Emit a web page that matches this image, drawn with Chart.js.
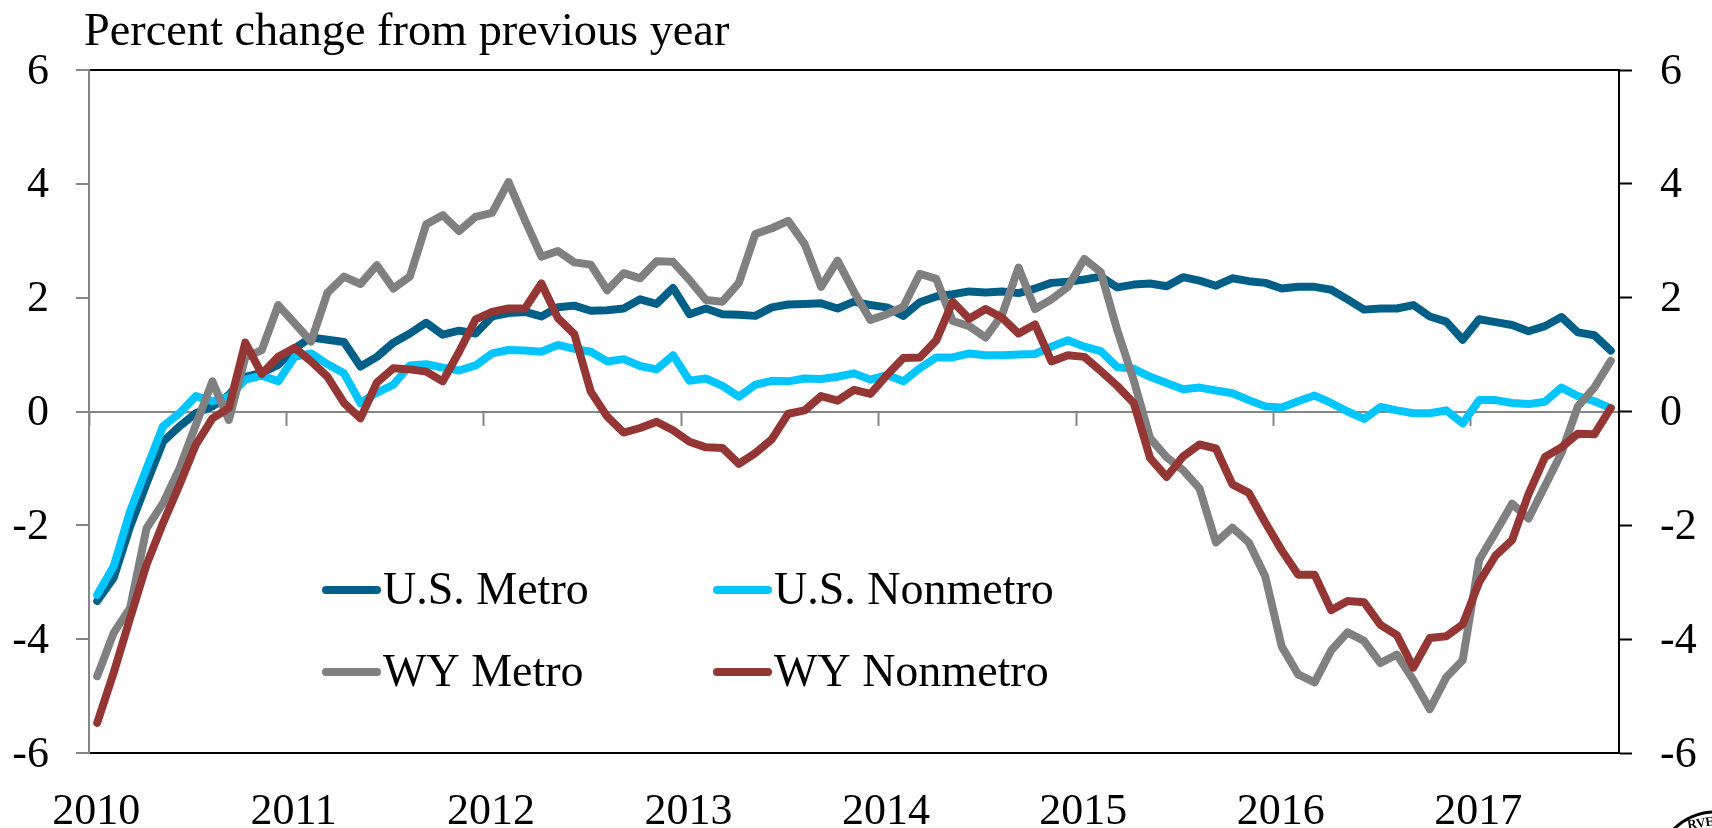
<!DOCTYPE html>
<html>
<head>
<meta charset="utf-8">
<title>Percent change from previous year</title>
<style>
    html, body { margin: 0; padding: 0; background: #fff; }
    canvas { display: block; }
</style>
<script src="https://cdn.jsdelivr.net/npm/chart.js@4"></script>
</head>
<body>
<canvas id="employment" width="1712" height="828"></canvas>
<script>
const years = [2010, 2011, 2012, 2013, 2014, 2015, 2016, 2017];
const months = ["Jan", "Feb", "Mar", "Apr", "May", "Jun", "Jul", "Aug", "Sep", "Oct", "Nov", "Dec"];
// monthly, Jan 2010 - Sep 2017
const categories = years.flatMap((y) => months.map((m) => m + " " + y)).slice(0, 93);
const yTicks = [-6, -4, -2, 0, 2, 4, 6];

const usMetro = [
    -3.33, -2.92, -2.02, -1.26, -0.53, -0.26, -0.03, 0.09, 0.29, 0.61, 0.68, 0.82,
    1.11, 1.30, 1.26, 1.22, 0.79, 0.96, 1.21, 1.37, 1.56, 1.35, 1.42, 1.37,
    1.67, 1.73, 1.75, 1.67, 1.83, 1.86, 1.77, 1.78, 1.81, 1.97, 1.89, 2.17,
    1.71, 1.81, 1.71, 1.70, 1.68, 1.83, 1.88, 1.89, 1.90, 1.81, 1.93, 1.87,
    1.83, 1.68, 1.92, 2.02, 2.06, 2.11, 2.09, 2.11, 2.08, 2.16, 2.26, 2.28,
    2.32, 2.37, 2.18, 2.23, 2.25, 2.20, 2.36, 2.30, 2.21, 2.34, 2.29, 2.26,
    2.16, 2.19, 2.19, 2.14, 1.97, 1.79, 1.81, 1.81, 1.87, 1.67, 1.58, 1.26,
    1.62, 1.57, 1.52, 1.41, 1.50, 1.66, 1.39, 1.34, 1.07,
];
const usNonmetro = [
    -3.22, -2.72, -1.75, -1.00, -0.26, -0.03, 0.27, 0.18, 0.26, 0.56, 0.63, 0.53,
    0.96, 1.02, 0.83, 0.67, 0.15, 0.33, 0.47, 0.81, 0.83, 0.77, 0.72, 0.81,
    1.02, 1.08, 1.07, 1.05, 1.17, 1.10, 1.05, 0.88, 0.92, 0.80, 0.74, 0.99,
    0.54, 0.58, 0.45, 0.26, 0.47, 0.54, 0.53, 0.58, 0.57, 0.61, 0.67, 0.56,
    0.64, 0.53, 0.76, 0.95, 0.95, 1.02, 0.99, 0.99, 1.00, 1.01, 1.14, 1.25,
    1.14, 1.06, 0.78, 0.75, 0.61, 0.50, 0.39, 0.42, 0.37, 0.32, 0.20, 0.09,
    0.07, 0.18, 0.28, 0.15, 0.00, -0.13, 0.08, 0.02, -0.03, -0.03, 0.02, -0.21,
    0.20, 0.20, 0.15, 0.13, 0.17, 0.42, 0.27, 0.18, 0.06,
];
const wyMetro = [
    -4.65, -3.89, -3.45, -2.05, -1.61, -1.00, -0.23, 0.53, -0.15, 0.95, 1.08, 1.87,
    1.55, 1.23, 2.09, 2.37, 2.24, 2.57, 2.16, 2.37, 3.29, 3.45, 3.17, 3.42,
    3.49, 4.03, 3.36, 2.72, 2.82, 2.62, 2.58, 2.13, 2.43, 2.34, 2.64, 2.63,
    2.31, 1.96, 1.93, 2.26, 3.12, 3.22, 3.35, 2.94, 2.19, 2.65, 2.10, 1.61,
    1.71, 1.84, 2.42, 2.33, 1.59, 1.50, 1.30, 1.70, 2.53, 1.80, 1.97, 2.19,
    2.68, 2.45, 1.43, 0.55, -0.47, -0.80, -1.03, -1.35, -2.30, -2.04, -2.30, -2.90,
    -4.13, -4.62, -4.76, -4.20, -3.88, -4.03, -4.42, -4.27, -4.72, -5.23, -4.67, -4.37,
    -2.61, -2.12, -1.62, -1.88, -1.31, -0.73, 0.09, 0.42, 0.89,
];
const wyNonmetro = [
    -5.47, -4.59, -3.63, -2.69, -1.96, -1.29, -0.58, -0.12, 0.06, 1.21, 0.66, 0.96,
    1.12, 0.88, 0.61, 0.15, -0.12, 0.51, 0.76, 0.74, 0.70, 0.53, 1.05, 1.62,
    1.75, 1.81, 1.81, 2.25, 1.64, 1.36, 0.35, -0.09, -0.37, -0.29, -0.18, -0.33,
    -0.53, -0.63, -0.64, -0.92, -0.73, -0.49, -0.04, 0.02, 0.27, 0.19, 0.38, 0.31,
    0.64, 0.94, 0.95, 1.25, 1.93, 1.63, 1.80, 1.65, 1.37, 1.53, 0.88, 0.99,
    0.96, 0.71, 0.45, 0.15, -0.82, -1.15, -0.79, -0.58, -0.65, -1.28, -1.43, -1.95,
    -2.44, -2.87, -2.87, -3.49, -3.33, -3.35, -3.75, -3.93, -4.50, -3.98, -3.95, -3.74,
    -3.00, -2.53, -2.26, -1.45, -0.80, -0.63, -0.39, -0.40, 0.06,
];

const TEAL = "#005F86";
const SKY = "#00C5FF";
const GREY = "#808080";
const BRICK = "#943634";
const AXIS_GREY = "#868686";
const SERIF = "'Liberation Serif', serif";

Chart.defaults.font.family = SERIF;
Chart.defaults.color = "#000";

// title and the 2x2 legend sit on fixed spots inside the plot, so draw them by hand
const annotate = {
    id: "annotate",
    afterDraw(chart) {
        const c = chart.ctx;
        c.save();
        c.fillStyle = "#000";
        c.textBaseline = "alphabetic";
        c.textAlign = "left";
        c.font = "46.3px " + SERIF;
        c.fillText("Percent change from previous year", 84, 45);

        const sampleX = [322, 713];
        const rowY = [590, 672];
        c.font = "46px " + SERIF;
        chart.data.datasets.forEach((ds, i) => {
            const x = sampleX[i % 2];
            const y = rowY[Math.floor(i / 2)];
            c.strokeStyle = ds.borderColor;
            c.lineWidth = 8;
            c.lineCap = "round";
            c.beginPath();
            c.moveTo(x + 4, y);
            c.lineTo(x + 55, y);
            c.stroke();
            c.fillStyle = "#000";
            c.fillText(ds.label, x + 61, y + 14);
        });

        // corner of the seal that pokes into the frame
        c.strokeStyle = "#000";
        c.lineWidth = 3;
        c.lineCap = "butt";
        c.beginPath();
        c.arc(1715, 870, 58, Math.PI * 1.2, Math.PI * 1.53);
        c.stroke();
        c.translate(1688, 829);
        c.rotate(-0.15);
        c.font = "bold 13px " + SERIF;
        c.fillStyle = "#000";
        c.fillText("RVE", 0, 0);
        c.restore();
    },
};

function line(label, data, color, order) {
    return {
        label,
        data,
        order,
        borderColor: color,
        backgroundColor: color,
        borderWidth: 8,
        borderCapStyle: "round",
        borderJoinStyle: "round",
        pointRadius: 0,
        tension: 0,
        fill: false,
    };
}

new Chart(document.getElementById("employment").getContext("2d"), {
    type: "line",
    data: {
        labels: categories,
        datasets: [
            line("U.S. Metro", usMetro, TEAL, 3),
            line("U.S. Nonmetro", usNonmetro, SKY, 2),
            line("WY Metro", wyMetro, GREY, 1),
            line("WY Nonmetro", wyNonmetro, BRICK, 0),
        ],
    },
    plugins: [annotate],
    options: {
        responsive: false,
        animation: false,
        layout: { autoPadding: false, padding: { top: 70, right: 0, bottom: 0, left: 0 } },
        plugins: { legend: { display: false }, tooltip: { enabled: false }, title: { display: false } },
        scales: {
            x: {
                type: "category",
                position: "bottom",
                offset: true,
                afterFit: (s) => { s.height = 75; },
                border: { color: "#000", width: 2 },
                grid: { drawOnChartArea: false, drawTicks: false },
                ticks: {
                    autoSkip: false,
                    maxRotation: 0,
                    minRotation: 0,
                    padding: 33,
                    labelOffset: -1,
                    font: { size: 44 },
                    callback(value, index) {
                        return index % 12 === 0 ? this.getLabelForValue(value).slice(-4) : "";
                    },
                },
            },
            // second x axis only for the year ticks hanging off the zero line
            x2: {
                type: "category",
                axis: "x",
                labels: categories,
                position: { y: 0 },
                offset: true,
                border: { color: AXIS_GREY, width: 2 },
                grid: {
                    offset: true,
                    drawOnChartArea: false,
                    tickLength: 13,
                    tickWidth: 2,
                    tickColor: (ctx) => (ctx.index % 12 === 0 ? AXIS_GREY : "transparent"),
                },
                ticks: { display: false, autoSkip: false },
            },
            y: {
                position: "left",
                min: yTicks[0],
                max: yTicks[yTicks.length - 1],
                afterFit: (s) => { s.width = 89; },
                border: { color: AXIS_GREY, width: 2 },
                grid: {
                    tickLength: 13,
                    tickWidth: 2,
                    tickColor: AXIS_GREY,
                    lineWidth: 2,
                    color: (ctx) => (ctx.tick && ctx.tick.value === 6 ? "#000" : "transparent"),
                },
                ticks: { stepSize: 2, padding: 27, labelOffset: 2, font: { size: 44 } },
            },
            y2: {
                position: "right",
                axis: "y",
                min: yTicks[0],
                max: yTicks[yTicks.length - 1],
                afterFit: (s) => { s.width = 93; },
                border: { color: "#000", width: 2 },
                grid: { drawOnChartArea: false, tickLength: 13, tickWidth: 2, tickColor: "#000" },
                ticks: { stepSize: 2, padding: 28, labelOffset: 2, font: { size: 44 } },
            },
        },
    },
});
</script>
</body>
</html>
